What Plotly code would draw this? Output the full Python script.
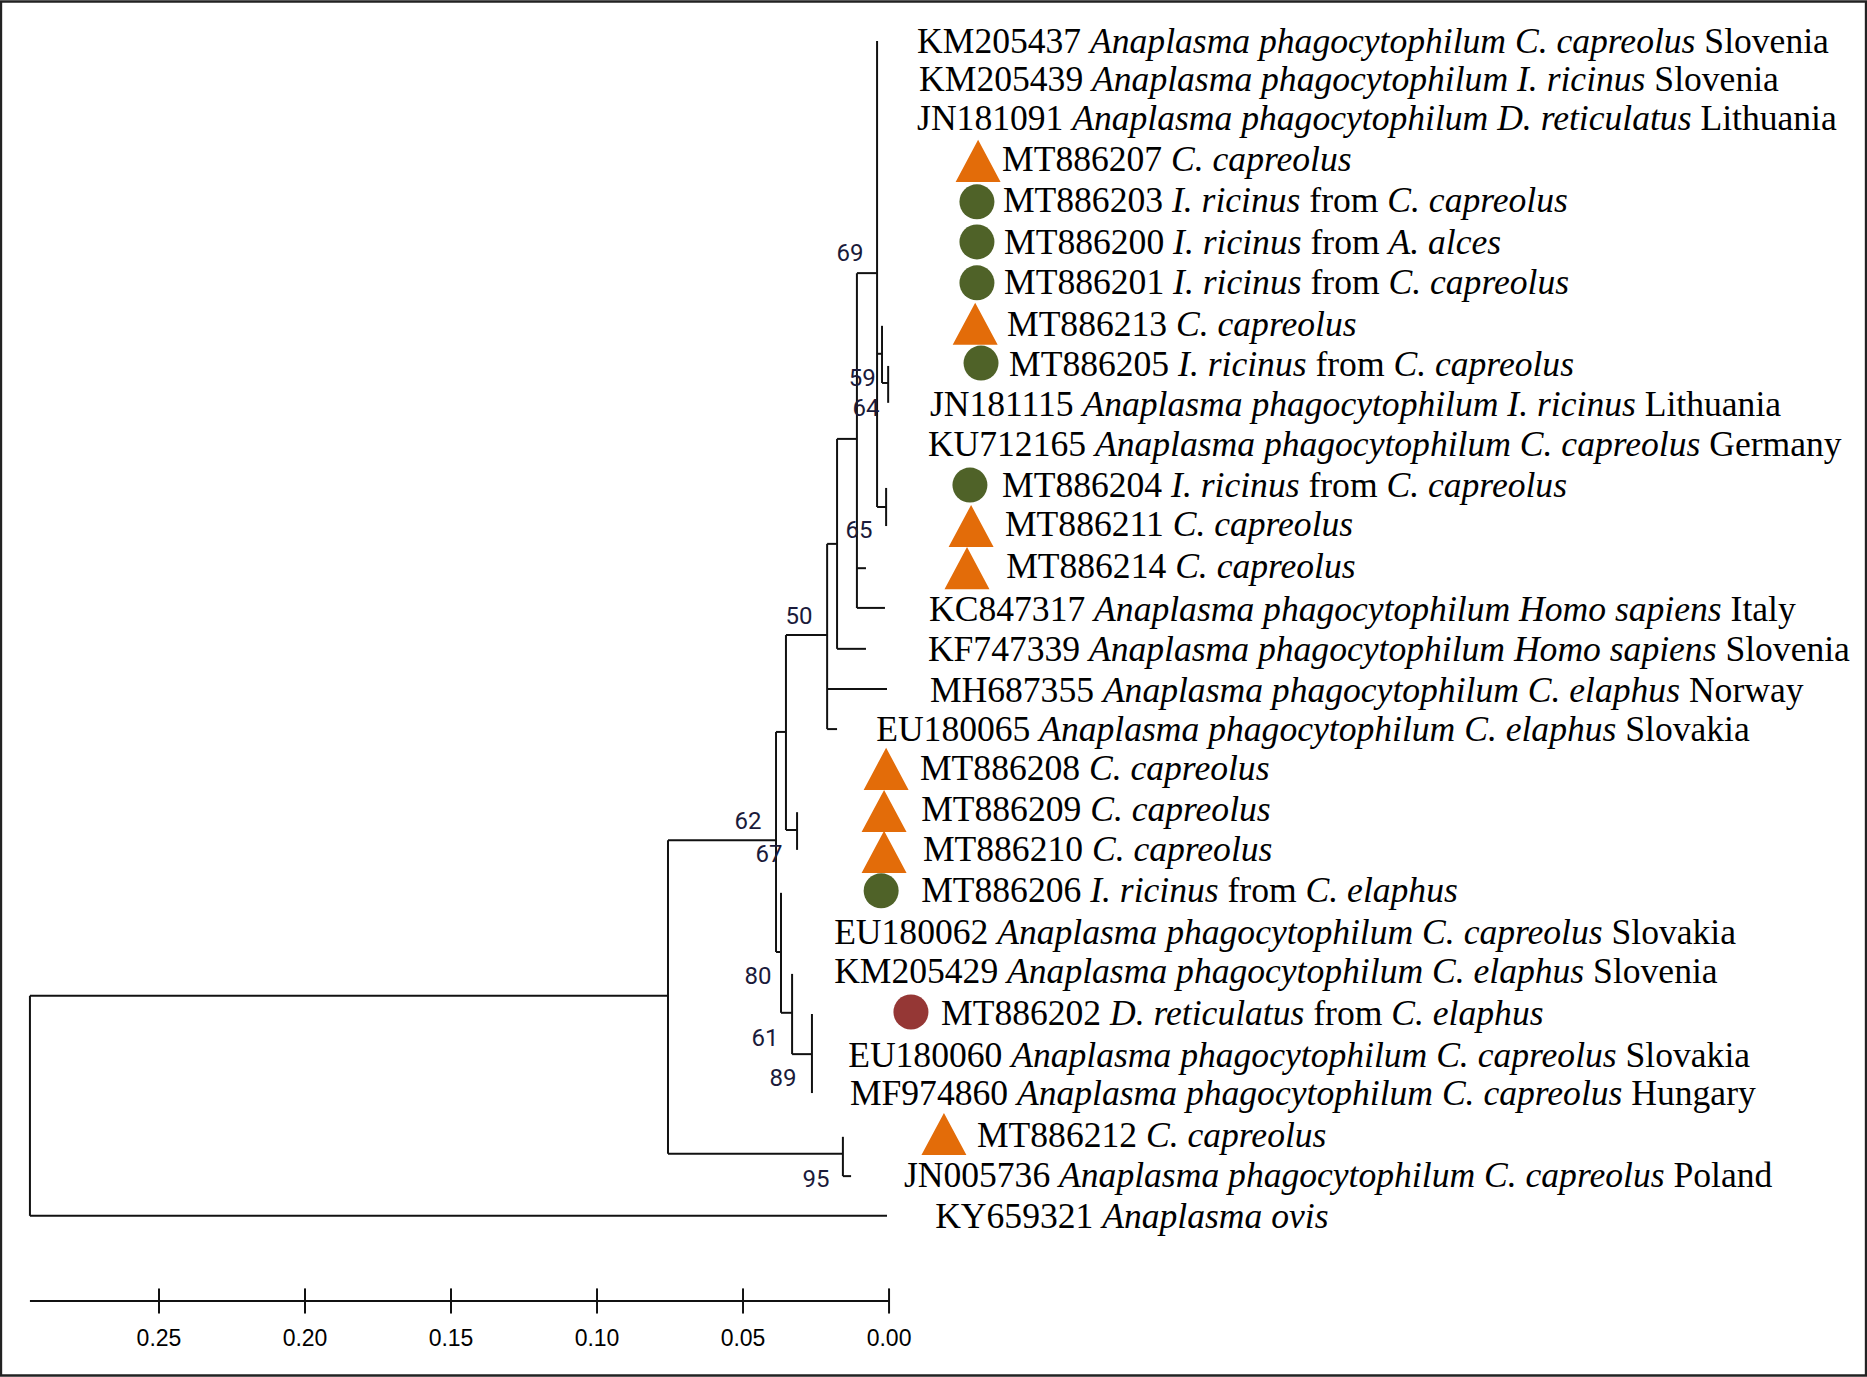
import plotly.graph_objects as go

# tip labels, top to bottom
labels = [
    "KM205437 <i>Anaplasma phagocytophilum C. capreolus</i> Slovenia",
    "KM205439 <i>Anaplasma phagocytophilum I. ricinus</i> Slovenia",
    "JN181091 <i>Anaplasma phagocytophilum D. reticulatus</i> Lithuania",
    "MT886207 <i>C. capreolus</i>",
    "MT886203 <i>I. ricinus</i> from <i>C. capreolus</i>",
    "MT886200 <i>I. ricinus</i> from <i>A. alces</i>",
    "MT886201 <i>I. ricinus</i> from <i>C. capreolus</i>",
    "MT886213 <i>C. capreolus</i>",
    "MT886205 <i>I. ricinus</i> from <i>C. capreolus</i>",
    "JN181115 <i>Anaplasma phagocytophilum I. ricinus</i> Lithuania",
    "KU712165 <i>Anaplasma phagocytophilum C. capreolus</i> Germany",
    "MT886204 <i>I. ricinus</i> from <i>C. capreolus</i>",
    "MT886211 <i>C. capreolus</i>",
    "MT886214 <i>C. capreolus</i>",
    "KC847317 <i>Anaplasma phagocytophilum Homo sapiens</i> Italy",
    "KF747339 <i>Anaplasma phagocytophilum Homo sapiens</i> Slovenia",
    "MH687355 <i>Anaplasma phagocytophilum C. elaphus</i> Norway",
    "EU180065 <i>Anaplasma phagocytophilum C. elaphus</i> Slovakia",
    "MT886208 <i>C. capreolus</i>",
    "MT886209 <i>C. capreolus</i>",
    "MT886210 <i>C. capreolus</i>",
    "MT886206 <i>I. ricinus</i> from <i>C. elaphus</i>",
    "EU180062 <i>Anaplasma phagocytophilum C. capreolus</i> Slovakia",
    "KM205429 <i>Anaplasma phagocytophilum C. elaphus</i> Slovenia",
    "MT886202 <i>D. reticulatus</i> from <i>C. elaphus</i>",
    "EU180060 <i>Anaplasma phagocytophilum C. capreolus</i> Slovakia",
    "MF974860 <i>Anaplasma phagocytophilum C. capreolus</i> Hungary",
    "MT886212 <i>C. capreolus</i>",
    "JN005736 <i>Anaplasma phagocytophilum C. capreolus</i> Poland",
    "KY659321 <i>Anaplasma ovis</i>",
]
label_dist = [-0.0096, -0.0103, -0.0096, -0.0387, -0.0390, -0.0394, -0.0394, -0.0404, -0.0411, -0.0140,
              -0.0133, -0.0387, -0.0397, -0.0401, -0.0137, -0.0133, -0.0140, 0.0044, -0.0106, -0.0110,
              -0.0116, -0.0110, 0.0188, 0.0188, -0.0178, 0.0140, 0.0134, -0.0301, -0.0051, -0.0158]
label_row = [0.07, 1.00, 1.97, 2.98, 3.99, 5.03, 6.01, 7.03, 8.04, 9.02,
             10.01, 11.02, 11.98, 13.02, 14.08, 15.06, 16.08, 17.04, 18.00, 19.02,
             20.00, 21.01, 22.05, 23.01, 24.05, 25.09, 26.02, 27.04, 28.05, 29.06]

# horizontal branches: from distance, to distance, row
branch_start = [0.2942, 0.2942, 0.0757, 0.0757, 0.0387, 0.0387, 0.0370, 0.0332, 0.0353, 0.0353, 0.0212, 0.0212,
                0.0212, 0.0178, 0.0178, 0.0110, 0.0110, 0.0110, 0.0041, 0.0041, 0.0024, 0.0158]
branch_end = [0.0757, 0.0007, 0.0387, 0.0158, 0.0353, 0.0370, 0.0332, 0.0264, 0.0212, 0.0315, 0.0178, 0.0007,
              0.0178, 0.0110, 0.0079, 0.0079, 0.0014, 0.0041, 0.0024, 0.0010, 0.0003, 0.0130]
branch_row = [23.54, 28.97, 19.70, 27.44, 17.03, 22.46, 23.96, 24.98, 14.64, 19.45, 12.39, 15.97,
              16.96, 9.80, 14.98, 12.99, 13.97, 5.71, 7.70, 11.48, 8.42, 27.99]

# vertical branches: distance, top row, bottom row
stem_dist = [0.2942, 0.0757, 0.0387, 0.0370, 0.0332, 0.0264, 0.0353, 0.0315, 0.0212, 0.0178, 0.0110, 0.0041,
             0.0024, 0.0003, 0.0010, 0.0158]
stem_top = [23.54, 19.70, 17.03, 21.00, 23.00, 23.99, 14.64, 19.01, 12.39, 9.80, 5.71, -0.02,
            7.01, 8.00, 11.01, 27.02]
stem_bottom = [28.97, 27.44, 22.46, 23.96, 24.98, 25.94, 19.45, 19.94, 16.96, 14.98, 13.97, 11.48,
               8.42, 8.91, 11.95, 27.99]

# bootstrap support values
support = ["69", "59", "64", "65", "50", "62", "67", "80", "61", "89", "95"]
support_dist = [0.0134, 0.0092, 0.0079, 0.0103, 0.0308, 0.0483, 0.0411, 0.0449, 0.0425, 0.0363, 0.0250]
support_row = [5.26, 8.35, 9.09, 12.10, 14.22, 19.28, 20.09, 23.10, 24.63, 25.62, 28.11]

# sample symbols
deer_dist = [-0.0305, -0.0295, -0.0281, -0.0267, 0.0010, 0.0017, 0.0017, -0.0188]
deer_row = [2.94, 6.96, 11.95, 12.99, 17.94, 18.98, 19.99, 26.95]
ricinus_dist = [-0.0301, -0.0301, -0.0301, -0.0315, -0.0277, 0.0027]
ricinus_row = [3.95, 4.94, 5.95, 7.93, 10.94, 20.95]
dermacentor_dist = [-0.0075]
dermacentor_row = [23.94]

# scale bar
scale_ticks = [0.25, 0.20, 0.15, 0.10, 0.05, 0.00]
scale_text = ["0.25", "0.20", "0.15", "0.10", "0.05", "0.00"]
scale_left = 0.2942
scale_row = 31.07
tick_half = 0.31
scale_label_row = 32.04

LINE = "#111111"
ORANGE = "#E36C09"
GREEN = "#4F6228"
RED = "#953735"
tri_half_w = 0.0077
tri_half_h = 0.52

xs, ys = [], []
for a, b, r in zip(branch_start, branch_end, branch_row):
    xs += [a, b, None]
    ys += [r, r, None]
for d, t, b in zip(stem_dist, stem_top, stem_bottom):
    xs += [d, d, None]
    ys += [t, b, None]

sx, sy = [scale_left, 0.0, None], [scale_row, scale_row, None]
for t in scale_ticks:
    sx += [t, t, None]
    sy += [scale_row - tick_half, scale_row + tick_half, None]

# triangles are stretched taller than the stock marker, so filled in data units
tx, ty = [], []
for d, r in zip(deer_dist, deer_row):
    tx += [d - tri_half_w, d + tri_half_w, d, d - tri_half_w, None]
    ty += [r + tri_half_h, r + tri_half_h, r - tri_half_h, r + tri_half_h, None]

fig = go.Figure()
fig.add_trace(go.Scatter(x=xs, y=ys, mode="lines", line=dict(color=LINE, width=2)))
fig.add_trace(go.Scatter(x=sx, y=sy, mode="lines", line=dict(color=LINE, width=2)))
fig.add_trace(go.Scatter(x=tx, y=ty, mode="lines", fill="toself", fillcolor=ORANGE, line=dict(width=0)))
fig.add_trace(go.Scatter(x=ricinus_dist, y=ricinus_row, mode="markers",
                         marker=dict(color=GREEN, size=35, symbol="circle")))
fig.add_trace(go.Scatter(x=dermacentor_dist, y=dermacentor_row, mode="markers",
                         marker=dict(color=RED, size=35, symbol="circle")))
fig.add_trace(go.Scatter(x=label_dist, y=label_row, mode="text", text=labels, textposition="middle right",
                         textfont=dict(family="Liberation Serif", size=35.6, color="#000000")))
fig.add_trace(go.Scatter(x=support_dist, y=support_row, mode="text", text=support, textposition="middle center",
                         textfont=dict(family="Roboto", size=24, color="#1a1a3a")))
fig.add_trace(go.Scatter(x=scale_ticks, y=[scale_label_row] * len(scale_ticks), mode="text", text=scale_text,
                         textposition="middle center",
                         textfont=dict(family="Liberation Sans", size=23, color="#000000")))

fig.update_layout(
    width=1867, height=1377,
    margin=dict(l=0, r=0, t=0, b=0),
    paper_bgcolor="white", plot_bgcolor="white",
    showlegend=False,
    xaxis=dict(range=[0.30445, -0.3349], visible=False),
    yaxis=dict(range=[32.946, -1.029], visible=False),
    shapes=[dict(type="rect", xref="paper", yref="paper", x0=0.0005, x1=0.9995, y0=0.001, y1=0.999,
                 line=dict(color="#222222", width=2.5))],
)
# page body has a default margin that would push the figure off by 8px
fig.write_html("out.html", config={"displayModeBar": False}, post_script="document.body.style.margin='0';")
